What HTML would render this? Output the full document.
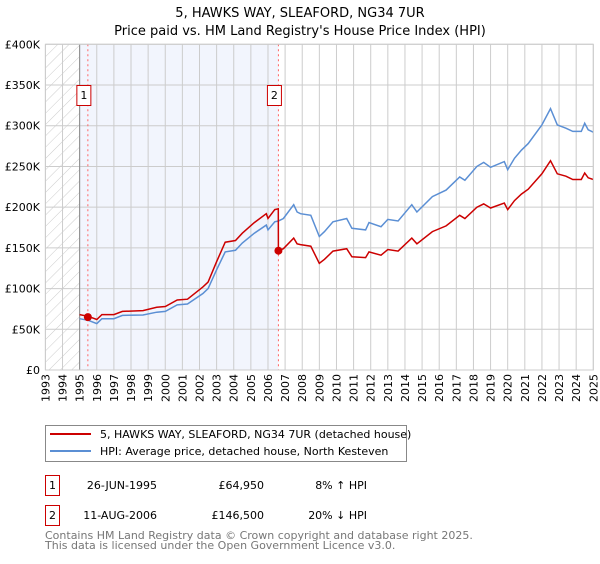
<!DOCTYPE html>
<html><head><meta charset="utf-8"><style>
body{margin:0;background:#fff;font-family:"DejaVu Sans","Liberation Sans",sans-serif;}
svg text{font-family:"DejaVu Sans","Liberation Sans",sans-serif;}
</style></head><body>
<svg id="chart" width="600" height="560" viewBox="0 0 600 560">
<defs><pattern id="hatch" patternUnits="userSpaceOnUse" width="8" height="8" patternTransform="rotate(45)"><line x1="0" y1="0" x2="0" y2="8" stroke="#ccc" stroke-width="1"/></pattern></defs>
<text x="300" y="17" text-anchor="middle" font-size="13">5, HAWKS WAY, SLEAFORD, NG34 7UR</text>
<text x="300" y="35" text-anchor="middle" font-size="13">Price paid vs. HM Land Registry's House Price Index (HPI)</text>
<g id="plot"></g>
<g>
<rect x="45.5" y="425.5" width="361" height="36" fill="#fff" stroke="#888"/>
<line x1="50" y1="434" x2="91" y2="434" stroke="#cc0000" stroke-width="2"/>
<text x="100" y="438" font-size="11">5, HAWKS WAY, SLEAFORD, NG34 7UR (detached house)</text>
<line x1="50" y1="451" x2="91" y2="451" stroke="#5b8fd4" stroke-width="2"/>
<text x="100" y="455" font-size="11">HPI: Average price, detached house, North Kesteven</text>
</g>
<g font-size="11">
<rect x="45.5" y="475.5" width="14" height="20" fill="#fff" stroke="#cc0000"/>
<text x="52.5" y="489" text-anchor="middle">1</text>
<text x="157" y="489" text-anchor="end">26-JUN-1995</text>
<text x="264" y="489" text-anchor="end">£64,950</text>
<text x="367" y="489" text-anchor="end">8% ↑ HPI</text>
<rect x="45.5" y="505.5" width="14" height="20" fill="#fff" stroke="#cc0000"/>
<text x="52.5" y="519" text-anchor="middle">2</text>
<text x="157" y="519" text-anchor="end">11-AUG-2006</text>
<text x="264" y="519" text-anchor="end">£146,500</text>
<text x="367" y="519" text-anchor="end">20% ↓ HPI</text>
</g>
<text x="45" y="539" font-size="11" fill="#777">Contains HM Land Registry data © Crown copyright and database right 2025.</text>
<text x="45" y="549" font-size="11" fill="#777">This data is licensed under the Open Government Licence v3.0.</text>
</svg>
<script>
const hpiDates=[1995.0,1995.5,1996.0,1996.3,1997.0,1997.5,1998.7,1999.5,2000.0,2000.7,2001.3,2002.2,2002.5,2003.0,2003.5,2004.1,2004.5,2005.2,2005.9,2006.0,2006.4,2006.6,2006.9,2007.5,2007.7,2007.9,2008.5,2009.0,2009.3,2009.8,2010.6,2010.9,2011.7,2011.9,2012.6,2013.0,2013.6,2014.4,2014.7,2015.6,2016.4,2017.2,2017.5,2018.2,2018.6,2019.0,2019.8,2020.0,2020.4,2020.8,2021.2,2022.0,2022.5,2022.9,2023.4,2023.8,2024.3,2024.5,2024.7,2025.0];
const hpiValues=[63,61,57,63,63,67,67.5,71,72,80,81,94,100,123,145,147,156,168,178,172,182,183,186,203,194,192,190,164,170,182,186,174,172,181,176,185,183,203,194,213,221,237,233,250,255,249,256,246,260,270,278,301,321,301,297,293,293,303,295,292];
const redDates=[1995.0,1995.5,1996.0,1996.3,1997.0,1997.5,1998.7,1999.5,2000.0,2000.7,2001.3,2002.2,2002.5,2003.0,2003.5,2004.1,2004.5,2005.2,2005.9,2006.0,2006.4,2006.6,2006.61,2006.9,2007.5,2007.7,2007.9,2008.5,2009.0,2009.3,2009.8,2010.6,2010.9,2011.7,2011.9,2012.6,2013.0,2013.6,2014.4,2014.7,2015.6,2016.4,2017.2,2017.5,2018.2,2018.6,2019.0,2019.8,2020.0,2020.4,2020.8,2021.2,2022.0,2022.5,2022.9,2023.4,2023.8,2024.3,2024.5,2024.7,2025.0];
const redValues=[68,66,62,68,68,72,73,77,78,86,87,102,108,133,157,159,168,181,192,186,197,198,146.5,149,162,155,154,152,131,136,146,149,139,138,145,141,148,146,162,155,170,177,190,186,200,204,199,205,197,208,216,222,241,257,241,238,234,234,242,236,234];
const saleDates=[1995.48,2006.61];
const saleValues=[64.95,146.5];
const saleLabels=["1","2"];
const yTicks=[0,50,100,150,200,250,300,350,400];
const yTickLabels=["£0","£50K","£100K","£150K","£200K","£250K","£300K","£350K","£400K"];
const xYears=[1993,1994,1995,1996,1997,1998,1999,2000,2001,2002,2003,2004,2005,2006,2007,2008,2009,2010,2011,2012,2013,2014,2015,2016,2017,2018,2019,2020,2021,2022,2023,2024,2025];

const L=45.4,R=593.3,T=44.3,B=370;
const xs=y=>L+(y-1993)/(2025-1993)*(R-L);
const ys=v=>B-v/400*(B-T);
const NS="http://www.w3.org/2000/svg";
const plot=document.getElementById('plot');
function mk(tag,attrs,parent){const e=document.createElementNS(NS,tag);for(const k in attrs)e.setAttribute(k,attrs[k]);(parent||plot).appendChild(e);return e;}
let e;
e=mk('rect',{x:xs(1995),y:T,width:xs(2006.61)-xs(1995),height:B-T,fill:'#f2f5fd'});


e=mk('rect',{x:L,y:T,width:xs(1995)-L,height:B-T,fill:'url(#hatch)'});


xYears.forEach(y=>{
 e=mk('line',{x1:xs(y),x2:xs(y),y1:T,y2:B,stroke:'#ccc','stroke-width':1});
 
 
 const tx=xs(y)+4, ty=B+4;
 e=mk('text',{x:tx,y:ty,'font-size':11,'text-anchor':'end',transform:'rotate(-90 '+tx.toFixed(1)+' '+ty+')'});
 e.textContent=y;
 
 
});
yTicks.forEach((v,i)=>{
 e=mk('line',{x1:L,x2:R,y1:ys(v),y2:ys(v),stroke:'#ccc','stroke-width':1});
 
 
 e=mk('text',{x:40,y:ys(v)+4,'font-size':11,'text-anchor':'end'});
 e.textContent=yTickLabels[i];
 
 
});
e=mk('line',{x1:xs(1995),x2:xs(1995),y1:T,y2:B,stroke:'#888','stroke-width':1});


saleDates.forEach((d,i)=>{
 e=mk('line',{x1:xs(d),x2:xs(d),y1:T,y2:B,stroke:'#ff6666','stroke-width':1,'stroke-dasharray':'2,3'});
 
 
});
const path=(ds,vs)=>ds.map((d,i)=>(i?'L':'M')+xs(d).toFixed(1)+','+ys(vs[i]).toFixed(1)).join('');
e=mk('path',{d:path(hpiDates,hpiValues),fill:'none',stroke:'#5b8fd4','stroke-width':1.5});


e=mk('path',{d:path(redDates,redValues),fill:'none',stroke:'#cc0000','stroke-width':1.5});


saleDates.forEach((d,i)=>{
 e=mk('circle',{cx:xs(d),cy:ys(saleValues[i]),r:4,fill:'#cc0000'});
 
 
 const bx=xs(d)-11;
 e=mk('rect',{x:bx,y:85.5,width:14,height:20,fill:'#fff',stroke:'#cc0000'});
 
 
 e=mk('text',{x:bx+7,y:99,'font-size':11,'text-anchor':'middle'});
 e.textContent=saleLabels[i];
 
 
});
e=mk('rect',{x:L,y:T,width:R-L,height:B-T,fill:'none',stroke:'#ccc'});


</script>
</body></html>
